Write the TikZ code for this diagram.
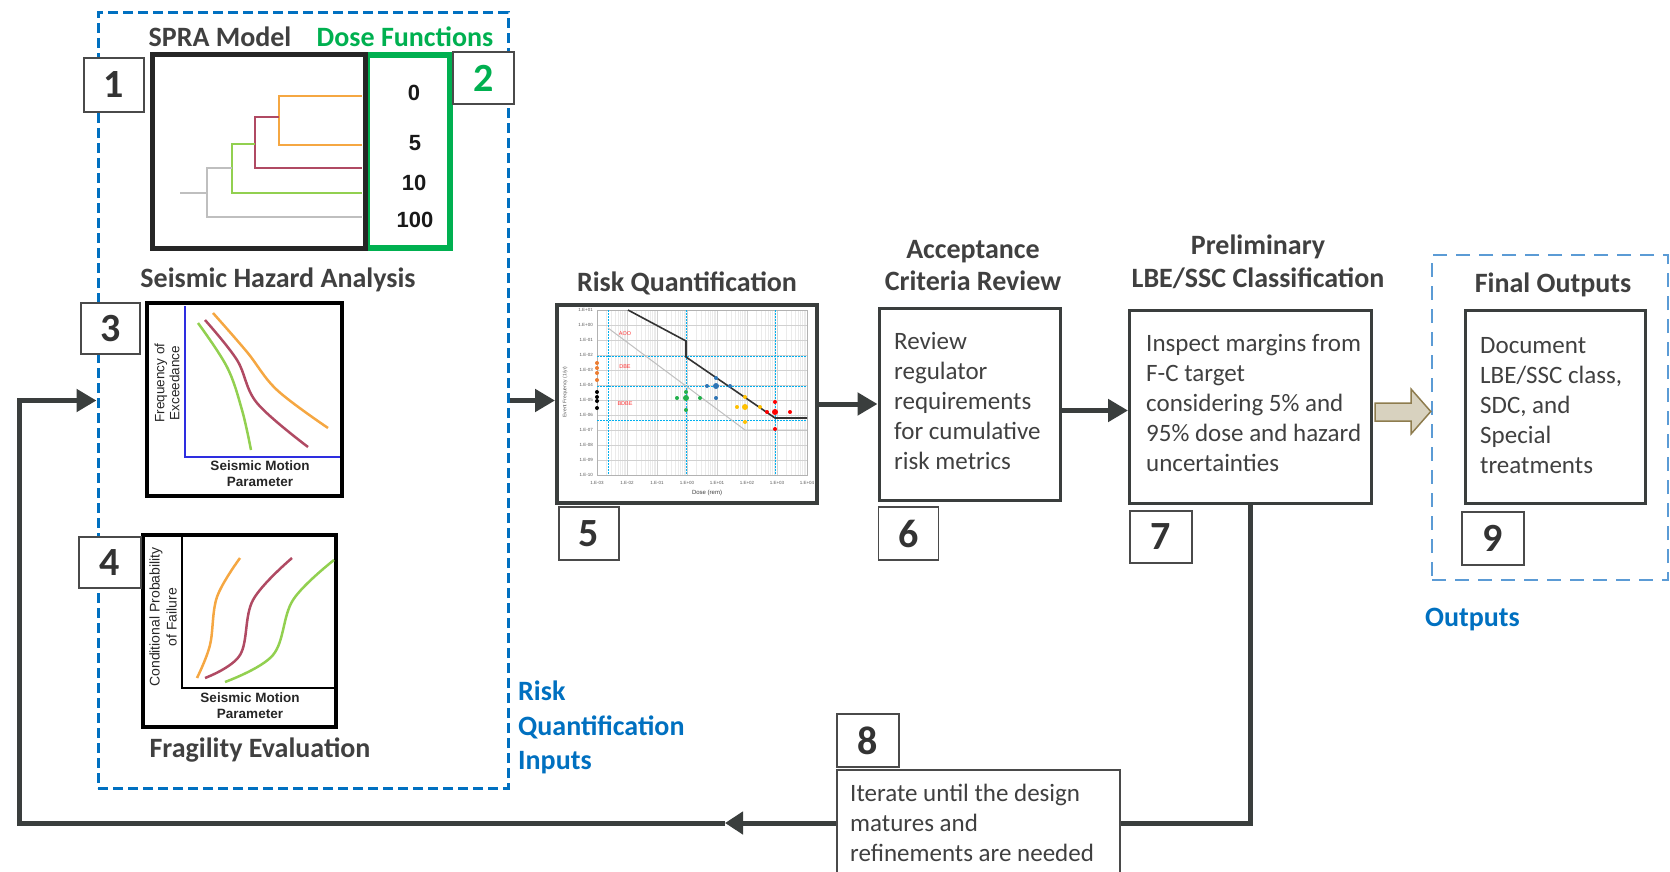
\documentclass[tikz,border=0pt]{standalone}
\usepackage{fontspec}
\setmainfont{Carlito}
\newfontfamily\arialf{Liberation Sans}
\usetikzlibrary{arrows.meta,calc}
\definecolor{dk}{HTML}{3A3E3D}
\definecolor{tc}{HTML}{404040}
\definecolor{nb}{HTML}{4A4A4A}
\definecolor{numc}{HTML}{333333}
\definecolor{inblue}{HTML}{0070C0}
\definecolor{outblue}{HTML}{5B9BD5}
\definecolor{dgreen}{HTML}{00B050}
\definecolor{corange}{HTML}{F5A742}
\definecolor{cmaroon}{HTML}{B04A63}
\definecolor{clime}{HTML}{92D050}
\definecolor{cgray}{HTML}{BFBFBF}
\definecolor{axblue}{HTML}{2E2EE0}
\definecolor{cyanl}{HTML}{00B0F0}
\definecolor{tanfill}{HTML}{D8D2BF}
\definecolor{tanedge}{HTML}{8E7C4E}
\definecolor{ptyellow}{HTML}{FFC000}
\definecolor{ptblue}{HTML}{2F75B5}
\definecolor{ptgreen}{HTML}{22B14C}
\definecolor{ptred}{HTML}{FF0000}
\definecolor{ptorange}{HTML}{ED7D31}
\begin{document}
\begin{tikzpicture}[x=1pt,y=-1pt,
  conn/.style={line width=5pt, draw=dk, -{Triangle[length=20pt,width=22pt]}},
  numbox/.style={draw=nb, line width=1.3pt, fill=white, inner sep=0pt, text=numc, font=\fontsize{40}{40}\selectfont\bfseries},
  titletext/.style={text=tc, font=\fontsize{28}{32}\selectfont\bfseries, align=center, inner sep=0pt},
  bluetext/.style={text=inblue, font=\fontsize{28}{34.5}\selectfont\bfseries, align=left, inner sep=0pt, anchor=west},
  boxtext/.style={text=tc, align=left, inner sep=0pt, anchor=west, font=\fontsize{25}{30}\selectfont},
  mainbox/.style={draw=dk, line width=3pt, inner sep=0pt},
  graphbox/.style={draw=black, line width=4.5pt, inner sep=0pt},
  treeline/.style={line width=2.5pt},
  curve/.style={line width=2.5pt},
  axlabel/.style={font=\arialf\bfseries\fontsize{13.5}{16}\selectfont, align=center, inner sep=0pt, text=black!85},
  rotlabel/.style={font=\arialf\fontsize{13.5}{15}\selectfont, align=center, inner sep=0pt, rotate=90, text=black!85},
  dosenum/.style={font=\arialf\bfseries\fontsize{22}{22}\selectfont, inner sep=0pt, text=black!90},
  tiny/.style={font=\arialf\fontsize{4.5}{5}\selectfont, inner sep=0pt, text=black!65},
  cdash/.style={draw=cyanl, line width=1pt, dash pattern=on 2pt off 1pt},
  dot/.style={radius=2pt}
]
\useasboundingbox (0,0) rectangle (1670,872);

% ---------- Inputs dashed box ----------
\node[draw=inblue, line width=3pt, dash pattern=on 10pt off 5pt, minimum width=410pt, minimum height=775pt, inner sep=0pt] (inputs) at (303,400.5) {};

% titles in inputs box
\node[titletext] (tspra) at (220,37) {SPRA Model};
\node[titletext, text=dgreen] (tdose) at (405,37) {Dose Functions};
\node[titletext] (tsha) at (278,280) {Seismic Hazard Analysis};
\node[titletext] (tfrag) at (260,750) {Fragility Evaluation};

% SPRA model and dose functions
\node[draw=dgreen, line width=5.5pt, minimum width=83pt, minimum height=193pt, inner sep=0pt] (dose) at (408.5,151.5) {};
\node[draw=black!85, line width=5pt, minimum width=213pt, minimum height=193pt, inner sep=0pt] (spra) at (258.5,151.5) {};
\draw[treeline, corange] (362,96) -- (279,96) -- (279,145) -- (362,145);
\draw[treeline, cmaroon] (279,117) -- (255,117) -- (255,168) -- (362,168);
\draw[treeline, clime] (255,144) -- (232,144) -- (232,193) -- (362,193);
\draw[treeline, cgray] (232,168) -- (207,168) -- (207,217) -- (362,217);
\draw[treeline, cgray] (180,193) -- (207,193);
\node[dosenum] (d0) at (414,93) {0};
\node[dosenum] (d5) at (415,143) {5};
\node[dosenum] (d10) at (414,183) {10};
\node[dosenum] (d100) at (415,220) {100};

% Seismic hazard graph
\node[graphbox, minimum width=195pt, minimum height=193pt] (g3) at (244.5,399.5) {};
\draw[axblue, line width=2pt] (185,306) -- (185,457) -- (340,457);
\draw[curve, corange] plot[smooth, tension=0.6] coordinates {(213,313) (247,352) (277,390) (328,428)};
\draw[curve, cmaroon] plot[smooth, tension=0.6] coordinates {(205,320) (237,360) (257,403) (308,447)};
\draw[curve, clime] plot[smooth, tension=0.6] coordinates {(198,323) (227,367) (242,410) (251,450)};
\node[axlabel] (g3x) at (260,474) {Seismic Motion\\Parameter};
\node[rotlabel] (g3y) at (167,383) {Frequency of\\Exceedance};

% Fragility graph
\node[graphbox, minimum width=193pt, minimum height=192pt] (g4) at (239.5,631) {};
\draw[black, line width=2pt] (182,537) -- (182,688) -- (334,688);
\draw[curve, corange] plot[smooth, tension=0.6] coordinates {(197,678) (210,645) (217,597) (240,558)};
\draw[curve, cmaroon] plot[smooth, tension=0.6] coordinates {(205,678) (240,655) (253,600) (292,558)};
\draw[curve, clime] plot[smooth, tension=0.6] coordinates {(225,682) (273,655) (293,600) (334,560)};
\node[axlabel] (g4x) at (250,705.5) {Seismic Motion\\Parameter};
\node[rotlabel, font=\arialf\fontsize{14}{17}\selectfont] (g4y) at (163,617) {Conditional Probability\\of Failure};

\node[bluetext] (rqi) at (518,727.5) {Risk\\Quantification\\Inputs};

% ---------- Risk quantification chart ----------
\node[titletext] (trq) at (687,283) {Risk Quantification};
\node[draw=dk, line width=4pt, minimum width=260pt, minimum height=198pt, inner sep=0pt, fill=white] (chart) at (687,404) {};
\foreach \d in {0,...,6}{
  \foreach \m in {0.301,0.477,0.602,0.699,0.778,0.845,0.903,0.954}{
    \draw[black!8, line width=0.4pt] ({597+30*\d+30*\m},310) -- ({597+30*\d+30*\m},475);
  }
}
\foreach \k in {0,...,11}{ \draw[black!18, line width=0.5pt] (597,{310+15*\k}) -- (807,{310+15*\k}); }
\foreach \k in {0,...,7}{ \draw[black!18, line width=0.5pt] ({597+30*\k},310) -- ({597+30*\k},475); }
\draw[black!30, line width=0.8pt] (597,310) rectangle (807,475);
\draw[cdash] (608,310) -- (608,475);
\draw[cdash] (686,310) -- (686,475);
\draw[cdash] (775,310) -- (775,475);
\draw[cdash] (597,356) -- (807,356);
\draw[cdash] (597,386) -- (807,386);
\draw[cdash] (597,420) -- (807,420);
\draw[black!25, line width=1pt] (608,328) -- (745,430) -- (807,430);
\draw[black!80, line width=1.6pt] (628,310) -- (686,341) -- (686,357) -- (775,418) -- (807,418);
\foreach \lab [count=\i from 0] in {1.E+01,1.E+00,1.E-01,1.E-02,1.E-03,1.E-04,1.E-05,1.E-06,1.E-07,1.E-08,1.E-09,1.E-10}{
  \node[tiny, anchor=east] at (593,{310+15*\i}) {\lab};
}
\foreach \lab [count=\i from 0] in {1.E-03,1.E-02,1.E-01,1.E+00,1.E+01,1.E+02,1.E+03,1.E+04}{
  \node[tiny] at ({597+30*\i},483) {\lab};
}
\node[tiny, rotate=90, font=\arialf\fontsize{5}{5}\selectfont] (cyl) at (565,392) {Event Frequency (1/yr)};
\node[tiny, font=\arialf\fontsize{6}{6}\selectfont, text=black!75] (cxl) at (707,493) {Dose (rem)};
\node[tiny, text=red!80, font=\arialf\fontsize{5.5}{6}\selectfont] at (625,334) {AOO};
\node[tiny, text=red!80, font=\arialf\fontsize{5.5}{6}\selectfont] at (625,367) {DBE};
\node[tiny, text=red!80, font=\arialf\fontsize{5.5}{6}\selectfont] at (625,404) {BDBE};
\foreach \yy in {363,368,373,380}{\fill[ptorange] (597,\yy) circle[dot];}
\foreach \yy in {392,397,401,408}{\fill[black] (597,\yy) circle[dot];}
\foreach \p in {(677,398),(686,392),(686,410),(700,398)}{\fill[ptgreen] \p circle[dot];}
\fill[ptgreen] (686,398) circle (3pt);
\foreach \p in {(707,386),(716,378),(716,398),(730,386)}{\fill[ptblue] \p circle[dot];}
\fill[ptblue] (716,386) circle (3pt);
\foreach \p in {(745,397),(737,407),(760,407),(745,422)}{\fill[ptyellow] \p circle[dot];}
\fill[ptyellow] (745,407) circle (3pt);
\foreach \p in {(767,412),(775,402),(790,412),(775,429)}{\fill[ptred] \p circle[dot];}
\fill[ptred] (775,412) circle (3pt);

% ---------- Acceptance criteria ----------
\node[titletext] (tacc) at (973,266) {Acceptance\\Criteria Review};
\node[mainbox, minimum width=181pt, minimum height=192pt] (b6) at (969.5,404.5) {};
\node[boxtext] (t6) at (894,401) {Review\\regulator\\requirements\\for cumulative\\risk metrics};

% ---------- Preliminary classification ----------
\node[titletext, font=\fontsize{28}{33}\selectfont\bfseries] (tpre) at (1258,261.5) {Preliminary\\LBE/SSC Classification};
\node[mainbox, minimum width=242pt, minimum height=193pt] (b7) at (1250.5,406.5) {};
\node[boxtext] (t7) at (1146,403) {Inspect margins from\\F-C target\\considering 5\% and\\95\% dose and hazard\\uncertainties};

% ---------- Outputs ----------
\node[draw=outblue, line width=2.5pt, dash pattern=on 14pt off 9pt, minimum width=236pt, minimum height=325pt, inner sep=0pt] (outputs) at (1550,417.5) {};
\node[titletext] (tfin) at (1553,285) {Final Outputs};
\node[mainbox, minimum width=180pt, minimum height=193pt] (b9) at (1555,406.5) {};
\node[boxtext] (t9) at (1480,406) {Document\\LBE/SSC class,\\SDC, and\\Special\\treatments};
\node[bluetext] (tout) at (1425,620) {Outputs};

% ---------- Connectors ----------
\draw[conn] (inputs.east) -- (chart.west |- inputs.east);
\draw[conn] (chart.east) -- (b6.west |- chart.east);
\coordinate (a67) at ($(b6.east)+(0,6)$);
\draw[conn] (a67) -- (b7.west |- a67);
\fill[tanfill, draw=tanedge, line width=1.5pt] (1375,403) -- (1411,403) -- (1411,389) -- (outputs.west |- 0,411.5) -- (1411,434) -- (1411,421) -- (1375,421) -- cycle;

% feedback loop
\coordinate (l0) at (b7.south);
\coordinate (l1) at (b7.south |- 0,823);
\coordinate (l2) at (725,823);
\coordinate (l3) at (19,823);
\draw[line width=5pt, draw=dk, -{Triangle[length=18pt,width=22pt]}] (l0) -- (l1) -- (l2);
\draw[conn] (l2) -- (l3) |- (inputs.west);

% box 8
\node[draw=nb, line width=1.3pt, fill=white, minimum width=283pt, minimum height=130pt, inner sep=0pt] (b8) at (978.5,835) {};
\node[boxtext] (t8) at (850,822.5) {Iterate until the design\\matures and\\refinements are needed};

% ---------- number labels ----------
\node[numbox, minimum width=60pt, minimum height=54pt] (n1) at (114,85) {1};
\node[numbox, minimum width=61pt, minimum height=52pt, text=dgreen] (n2) at (483.5,78) {2};
\node[numbox, minimum width=59pt, minimum height=51pt] (n3) at (110.5,328.5) {3};
\node[numbox, minimum width=62pt, minimum height=51pt] (n4) at (110,562.5) {4};
\node[numbox, minimum width=60pt, minimum height=53pt] (n5) at (589,533.5) {5};
\node[numbox, minimum width=60pt, minimum height=53pt] (n6) at (908.5,533.5) {6};
\node[numbox, minimum width=62pt, minimum height=52pt] (n7) at (1161,537) {7};
\node[numbox, minimum width=62pt, minimum height=53pt] (n8) at (868,740.5) {8};
\node[numbox, minimum width=62pt, minimum height=53pt] (n9) at (1493,538.5) {9};
\end{tikzpicture}
\end{document}
